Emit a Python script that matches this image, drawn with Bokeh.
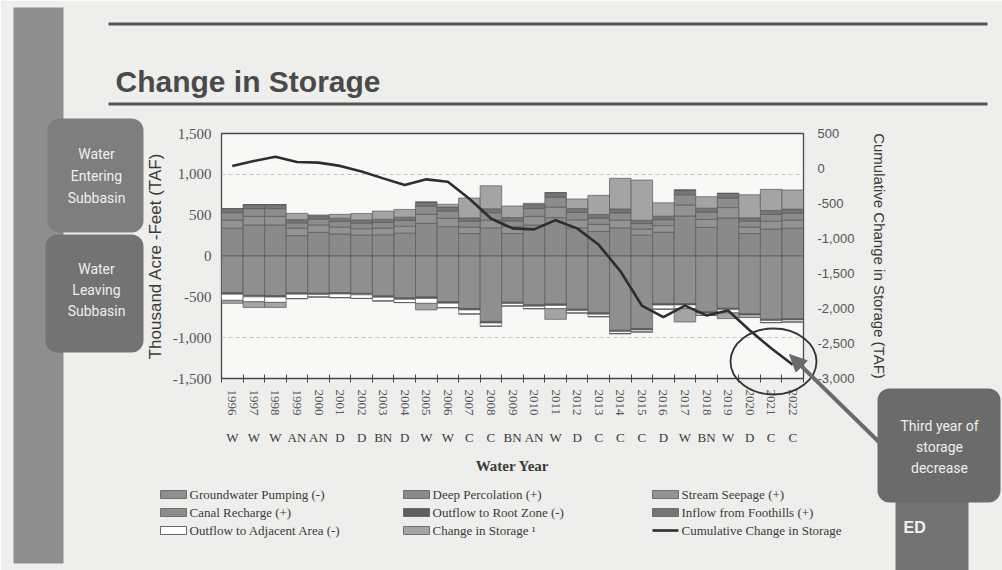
import numpy as np
from bokeh.plotting import figure
from bokeh.models import (Range1d, LinearAxis, FixedTicker, NumeralTickFormatter,
                          CustomJSTickFormatter, ColumnDataSource)
from bokeh.core.properties import value
from bokeh.embed import file_html
from bokeh.resources import INLINE

# ---------------- data (TAF) ----------------
years = list(range(1996, 2023))
year_types = ["W", "W", "W", "AN", "AN", "D", "D", "BN", "D", "W", "W", "C", "C", "BN",
              "AN", "W", "D", "C", "C", "C", "D", "W", "BN", "W", "D", "C", "C"]

deep_percolation = [340, 380, 380, 250, 290, 270, 255, 260, 280, 400, 360, 275, 345, 275,
                    380, 470, 345, 300, 345, 255, 290, 490, 350, 465, 275, 330, 340]
stream_seepage = [100, 105, 105, 90, 90, 85, 80, 82, 85, 110, 100, 80, 95, 85,
                  105, 130, 98, 88, 95, 75, 82, 135, 98, 128, 80, 95, 98]
canal_recharge = [90, 95, 95, 66, 73, 68, 66, 69, 71, 100, 92, 70, 90, 70,
                  96, 120, 90, 76, 88, 67, 73, 125, 89, 118, 71, 84, 88]
inflow_foothills = [50, 50, 50, 40, 40, 40, 40, 40, 40, 50, 47, 42, 48, 41,
                    50, 56, 48, 44, 48, 40, 42, 58, 48, 56, 42, 48, 48]
groundwater_pumping = [450, 482, 485, 450, 456, 448, 458, 488, 512, 502, 560, 642, 802, 566,
                       599, 589, 652, 697, 910, 889, 585, 583, 685, 640, 709, 775, 767]
outflow_root_zone = [18, 18, 18, 17, 16, 17, 17, 17, 18, 18, 18, 18, 18, 16,
                     16, 16, 16, 16, 16, 16, 16, 16, 16, 16, 16, 16, 16]
outflow_adjacent = [75, 60, 65, 55, 30, 45, 45, 45, 40, 60, 55, 50, 40, 30,
                    30, 40, 30, 30, 25, 25, 50, 45, 25, 40, 25, 25, 25]
# positive = storage decline (drawn on top), negative = storage gain (drawn at bottom)
change_in_storage = [-37, -70, -62, 76, 9, 47, 79, 99, 94, -80, 34, 243, 282, 141,
                     14, -131, 117, 235, 375, 493, 164, -164, 141, -71, 282, 259, 234]
cumulative_change = [37, 107, 169, 93, 84, 37, -42, -141, -235, -155, -189, -432, -714, -855,
                     -869, -738, -855, -1090, -1465, -1958, -2122, -1958, -2099, -2028, -2310, -2569, -2803]

left_ticks = [-1500, -1000, -500, 0, 500, 1000, 1500]
right_ticks = [-3000, -2500, -2000, -1500, -1000, -500, 0, 500]

W, H = 1002, 570
FL, FR, FT, FB = 221, 803, 133, 378      # plot frame in page pixels
TXT = "#3a3a3a"
SERIF = "Liberation Serif"
SANS = "Liberation Sans"
BG = "#eeeeec"

C_DP, C_SS, C_CR, C_FH, C_CIS = "#8a8a8a", "#939393", "#8c8c8c", "#757575", "#a4a4a4"
C_GP, C_RZ, C_AA = "#8f8f8f", "#5e5e5e", "#ffffff"
OUT = "#5a5a5a"
LINE_C = "#2e2e2e"

p = figure(width=W, height=H, x_range=Range1d(1995.5, 2022.5), y_range=Range1d(-1500, 1500),
           output_backend="svg", toolbar_location=None,
           min_border_left=FL, min_border_right=W - FR, min_border_top=FT, min_border_bottom=H - FB,
           background_fill_color="#f8f8f6", border_fill_color=BG,
           outline_line_color="#4a4a4a", outline_line_width=1.3)
p.extra_y_ranges = {"cum": Range1d(-3000, 500), "py": Range1d(FB, FT)}
p.extra_x_ranges = {"px": Range1d(FL, FR)}

p.xgrid.visible = False
p.ygrid.ticker = FixedTicker(ticks=[-1000, -500, 500, 1000])
p.ygrid.grid_line_color = "#c4c4c2"
p.ygrid.grid_line_dash = "4 3"

cis = np.array(change_in_storage)
src = ColumnDataSource(dict(
    year=years,
    dp=deep_percolation, ss=stream_seepage, cr=canal_recharge, fh=inflow_foothills,
    cis_pos=np.clip(cis, 0, None),
    gp=-np.array(groundwater_pumping), rz=-np.array(outflow_root_zone),
    aa=-np.array(outflow_adjacent), cis_neg=np.clip(cis, None, 0),
    cum=cumulative_change,
))
pos = p.vbar_stack(["dp", "ss", "cr", "fh", "cis_pos"], x="year", width=1.0, source=src,
                   fill_color=[C_DP, C_SS, C_CR, C_FH, C_CIS], line_color=OUT, line_width=0.7)
neg = p.vbar_stack(["gp", "rz", "aa", "cis_neg"], x="year", width=1.0, source=src,
                   fill_color=[C_GP, C_RZ, C_AA, C_CIS], line_color=OUT, line_width=0.7)
p.line(x="year", y="cum", source=src, y_range_name="cum", line_color=LINE_C, line_width=2.6)

# x axis: years
xa = p.xaxis[0]
xa.ticker = FixedTicker(ticks=years, minor_ticks=list(np.arange(1995.5, 2023, 1.0)))
xa.formatter = CustomJSTickFormatter(code="return String(Math.round(tick));")
xa.major_label_orientation = "vertical"
xa.major_tick_line_color = None
xa.major_tick_in = 0
xa.major_tick_out = 4
xa.minor_tick_in = 4
xa.minor_tick_out = 4
xa.minor_tick_line_color = "#444444"
xa.axis_line_color = "#444444"
xa.major_label_standoff = 7
xa.major_label_text_font = SERIF
xa.major_label_text_font_size = "13px"
xa.major_label_text_color = "#555555"

# second row: water-year types
ta = LinearAxis(ticker=FixedTicker(ticks=years),
                formatter=CustomJSTickFormatter(args=dict(types=year_types, years=years),
                                                code="return types[years.indexOf(Math.round(tick))];"),
                axis_label="Water Year", axis_line_color=None, major_tick_line_color=None,
                minor_tick_line_color=None, major_tick_in=0, major_tick_out=0,
                major_label_standoff=11, axis_label_standoff=10)
ta.major_label_text_font = SERIF
ta.major_label_text_font_size = "13px"
ta.major_label_text_color = TXT
ta.axis_label_text_font = SERIF
ta.axis_label_text_font_size = "15px"
ta.axis_label_text_font_style = "bold"
ta.axis_label_text_color = TXT
p.add_layout(ta, "below")

# left axis
ya = p.yaxis[0]
ya.ticker = FixedTicker(ticks=left_ticks)
ya.formatter = NumeralTickFormatter(format="0,0")
ya.major_tick_line_color = None
ya.minor_tick_line_color = None
ya.major_tick_in = 0
ya.major_tick_out = 0
ya.axis_line_color = None
ya.major_label_standoff = 10
ya.major_label_text_font = SERIF
ya.major_label_text_font_size = "15px"
ya.major_label_text_color = "#555555"
ya.axis_label = "Thousand Acre -Feet (TAF)"
ya.axis_label_standoff = 5
ya.axis_label_text_font = SANS
ya.axis_label_text_font_size = "17px"
ya.axis_label_text_font_style = "normal"
ya.axis_label_text_color = TXT

# right axis
ra = LinearAxis(y_range_name="cum", ticker=FixedTicker(ticks=right_ticks),
                formatter=NumeralTickFormatter(format="0,0"),
                axis_label="Cumulative Change in Storage (TAF)", axis_line_color=None,
                major_tick_line_color=None, minor_tick_line_color=None,
                major_tick_in=0, major_tick_out=0, major_label_standoff=14, axis_label_standoff=14)
ra.major_label_text_font = SANS
ra.major_label_text_font_size = "13px"
ra.major_label_text_color = "#555555"
ra.axis_label_text_font = SANS
ra.axis_label_text_font_size = "15px"
ra.axis_label_text_font_style = "normal"
ra.axis_label_text_color = TXT
p.add_layout(ra, "right")

# ================= slide decorations, in page pixels (overlay level) =================
PX = dict(x_range_name="px", y_range_name="py", level="overlay")

def box(x1, y1, x2, y2, color, radius=0, line=None, lw=1):
    p.quad(left=[x1], right=[x2], top=[y1], bottom=[y2], fill_color=color,
           line_color=line, line_width=lw, border_radius=radius, **PX)

def text(x, y, s, size="14px", color="#eeeeee", font="Roboto", style="normal",
         align="center", baseline="middle"):
    p.text(x=[x], y=[y], text=[s], text_align=align, text_baseline=baseline,
           text_font=value(font), text_font_size=value(size), text_color=color,
           text_font_style=style, **PX)

# left strip and side boxes
box(13, 7, 63, 563, "#8e8e8e")
box(47, 118, 143, 232, "#7e7e7e", 12)
box(45, 234, 143, 352, "#737373", 12)
for i, s in enumerate(["Water", "Entering", "Subbasin"]):
    text(96, 153 + 22 * i, s)
for i, s in enumerate(["Water", "Leaving", "Subbasin"]):
    text(96, 268 + 21 * i, s)

# title and rules
box(108, 22, 987, 25, "#555555")
box(108, 102, 987, 105, "#555555")
text(115, 81, "Change in Storage", size="30px", color="#4a4a4a",
     font=SANS, style="bold", align="left", baseline="alphabetic")

# legend (three columns)
leg_cols = [160, 403, 652]
leg_rows = [494, 512, 530]
leg_labels = [["Groundwater Pumping (-)", "Canal Recharge (+)", "Outflow to Adjacent Area (-)"],
              ["Deep Percolation (+)", "Outflow to Root Zone (-)", "Change in Storage \u00b9"],
              ["Stream Seepage (+)", "Inflow from Foothills (+)", "Cumulative Change in Storage"]]
leg_colors = [[C_GP, C_CR, C_AA], [C_DP, C_RZ, C_CIS], [C_SS, C_FH, None]]
for ci, X in enumerate(leg_cols):
    for ri, Y in enumerate(leg_rows):
        col = leg_colors[ci][ri]
        if col is None:
            p.segment(x0=[X], y0=[Y], x1=[X + 26], y1=[Y], line_color=LINE_C, line_width=2.6, **PX)
        else:
            box(X, Y - 4, X + 26, Y + 4, col, line="#444444" if col == C_AA else OUT, lw=0.8)
        text(X + 29, Y, leg_labels[ci][ri], size="13px", color=TXT, font=SERIF, align="left")

# circle around the last years
p.ellipse(x=[773], y=[361], width=86, height=66, width_units="screen", height_units="screen",
          fill_alpha=0, line_color="#333333", line_width=1.8, **PX)

# arrow from the callout to the circle
ax0, ay0, ax1, ay1 = 880.0, 443.0, 789.0, 354.0
u = np.array([ax1 - ax0, ay1 - ay0]); u = u / np.hypot(*u)
nrm = np.array([-u[1], u[0]])
base = np.array([ax1, ay1]) - 17 * u
p.segment(x0=[ax0], y0=[ay0], x1=[base[0]], y1=[base[1]], line_color="#6b6b6b", line_width=4, **PX)
p.patch(x=[ax1, base[0] + 8 * nrm[0], base[0] - 8 * nrm[0]],
        y=[ay1, base[1] + 8 * nrm[1], base[1] - 8 * nrm[1]],
        fill_color="#6b6b6b", line_color="#6b6b6b", **PX)

# callout box and logo strip
box(895, 500, 968, 570, "#737373")
box(877, 388, 1000, 502, "#6b6b6b", 12)
for i, s in enumerate(["Third year of", "storage", "decrease"]):
    text(939, 425 + 21 * i, s)
text(903, 527, "ED", size="16px", color="#f2f2f2", font=SANS, style="bold", align="left")

open("out.html", "w").write(file_html(p, INLINE))
